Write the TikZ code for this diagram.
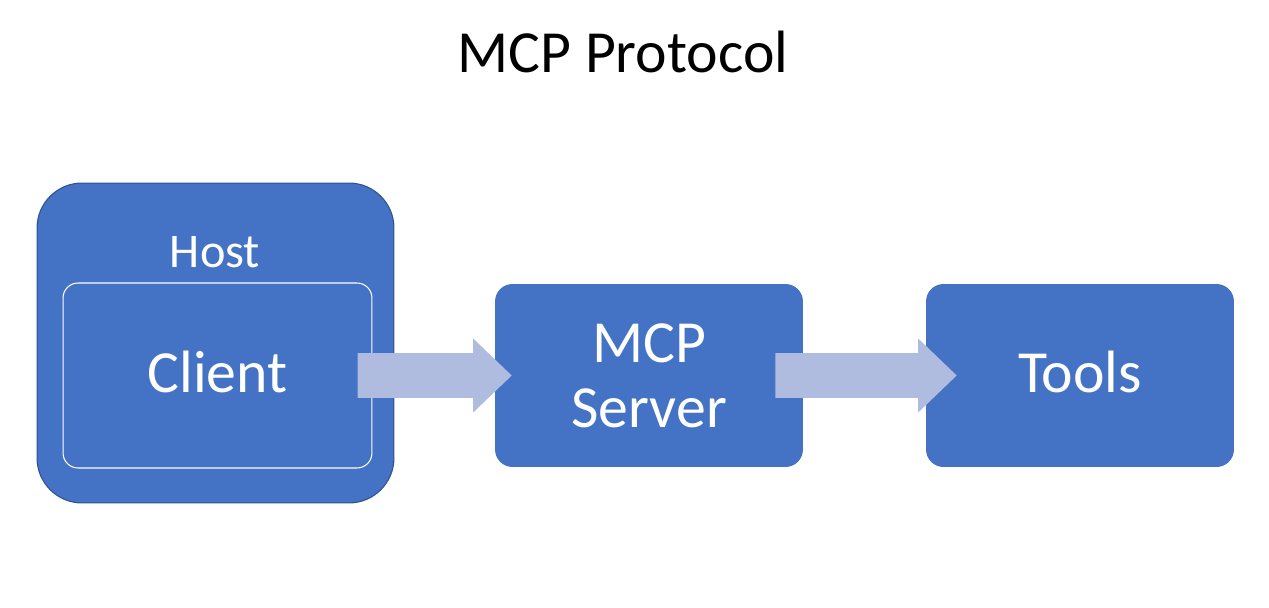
\documentclass[tikz,border=0pt]{standalone}
\usepackage{fontspec}
\setmainfont{Carlito}
\usetikzlibrary{calc}
\definecolor{boxblue}{RGB}{68,114,196}
\definecolor{hostline}{RGB}{47,82,143}
\definecolor{arrowblue}{RGB}{175,187,223}
% wide block arrow from one coordinate to another
\newcommand{\fatarrow}[2]{%
  \fill[flowarrow] let \p1=(#1), \p2=(#2) in
    (\x1,\y1+0.45cm) -- (\x2-0.77cm,\y1+0.45cm) -- (\x2-0.77cm,\y1+0.74cm) -- (\x2,\y1)
    -- (\x2-0.77cm,\y1-0.74cm) -- (\x2-0.77cm,\y1-0.45cm) -- (\x1,\y1-0.45cm) -- cycle;}

\begin{document}
\begin{tikzpicture}[line cap=round,line join=round,x=0.02cm,y=-0.02cm,
    bigtext/.style={font=\fontsize{34}{37}\selectfont},
    blockbox/.style={bigtext,fill=boxblue,text=white,rounded corners=0.35cm,
      minimum width=6.16cm,minimum height=3.66cm,inner sep=0pt},
    flowarrow/.style={fill=arrowblue}]
      \useasboundingbox (0,0) rectangle (1269,608);

      \node[bigtext,anchor=base] (title) at (623,73) {MCP Protocol};

      \node[fill=boxblue,draw=hostline,line width=0.6pt,rounded corners=0.9cm,
            minimum width=7.14cm,minimum height=6.4cm,inner sep=0pt] (host) at (215.5,343) {};
      \node[text=white,font=\fontsize{27.5}{30}\selectfont,anchor=base] (hostname) at (215,268) {Host};
      \node[bigtext,text=white,draw=white,line width=0.6pt,rounded corners=0.3cm,
            minimum width=6.18cm,minimum height=3.7cm,inner sep=0pt,
            text height=0.7cm,text depth=0cm] (client) at (217.5,375.5) {Client};

      \node[blockbox,align=center] (server) at (649,375.5) {MCP\\Server};
      \node[blockbox,text height=0.7cm,text depth=0cm] (tools) at (1080,375.5) {Tools};

      \coordinate (clientout) at ([xshift=-0.3cm]client.east);
      \coordinate (serverin) at ([xshift=0.34cm]server.west);
      \coordinate (serverout) at ([xshift=-0.56cm]server.east);
      \coordinate (toolsin) at ([xshift=0.62cm]tools.west);
      \fatarrow{clientout}{serverin}
      \fatarrow{serverout}{toolsin}
\end{tikzpicture}
\end{document}
